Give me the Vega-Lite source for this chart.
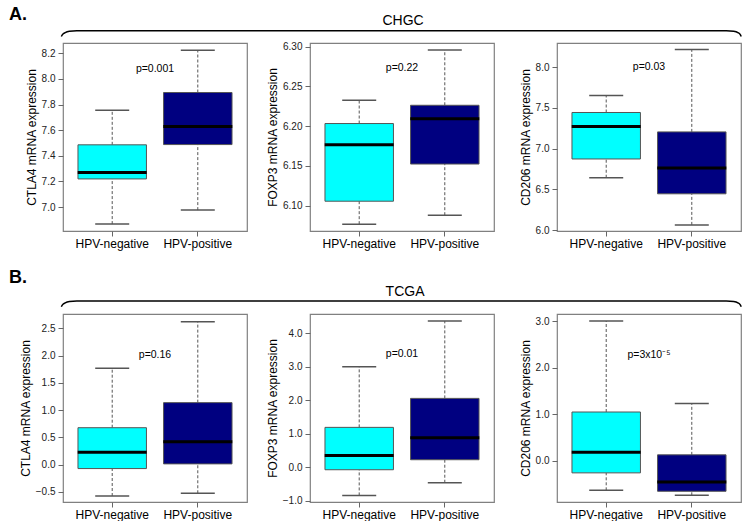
{
  "$schema": "https://vega.github.io/schema/vega-lite/v6.json",
  "background": "white",
  "padding": {"left": 8, "top": 5, "right": 0, "bottom": 0},
  "columns": 3,
  "bounds": "flush",
  "spacing": {"row": 83, "column": 63},
  "config": {
    "font": "Liberation Sans",
    "view": {"stroke": "#808080", "strokeWidth": 1.2},
    "axis": {"grid": false, "domain": false, "tickColor": "#666", "tickSize": 5},
    "axisX": {"labelAngle": 0, "labelFontSize": 12, "labelColor": "black", "labelPadding": 2},
    "axisY": {"labelFontSize": 10, "labelColor": "#222", "labelPadding": 3, "titleFontSize": 12, "titleFontWeight": "normal", "titleColor": "black", "titlePadding": 3}
  },
  "concat": [
    {
      "width": 184, "height": 188,
      "resolve": {"scale": {"x": "independent", "y": "independent"}},
      "layer": [
        {
          "layer": [
            {
              "data": {"values": [
                {"group": "HPV-negative", "min": 6.868, "q1": 7.22, "median": 7.271, "q3": 7.486, "max": 7.755},
                {"group": "HPV-positive", "min": 6.977, "q1": 7.488, "median": 7.628, "q3": 7.894, "max": 8.223}
              ]},
              "encoding": {"x": {"field": "group", "type": "nominal", "sort": null, "title": null, "scale": {"paddingInner": 0.2, "paddingOuter": 0.175}}},
              "layer": [
                {"mark": {"type": "rule", "color": "#555", "strokeDash": [3, 2]}, "encoding": {"y": {"field": "q3", "type": "quantitative", "title": "CTLA4 mRNA expression", "scale": {"domain": [6.814, 8.28], "nice": false, "zero": false}, "axis": {"values": [7.0, 7.2, 7.4, 7.6, 7.8, 8.0, 8.2], "format": ".1f", "labelOverlap": false, "tickCount": 30}}, "y2": {"field": "max"}}},
                {"mark": {"type": "rule", "color": "#555", "strokeDash": [3, 2]}, "encoding": {"y": {"field": "min", "type": "quantitative", "title": "CTLA4 mRNA expression"}, "y2": {"field": "q1"}}},
                {"mark": {"type": "tick", "color": "#555", "size": 34, "thickness": 1.5, "opacity": 1}, "encoding": {"y": {"field": "max", "type": "quantitative", "title": "CTLA4 mRNA expression"}}},
                {"mark": {"type": "tick", "color": "#555", "size": 34, "thickness": 1.5, "opacity": 1}, "encoding": {"y": {"field": "min", "type": "quantitative", "title": "CTLA4 mRNA expression"}}},
                {"mark": {"type": "bar", "stroke": "#555", "strokeWidth": 1, "opacity": 1}, "encoding": {"y": {"field": "q1", "type": "quantitative", "title": "CTLA4 mRNA expression"}, "y2": {"field": "q3"}, "color": {"field": "group", "type": "nominal", "scale": {"domain": ["HPV-negative", "HPV-positive"], "range": ["#00FFFF", "#000080"]}, "legend": null}}},
                {"mark": {"type": "tick", "color": "black", "size": 69, "thickness": 3, "opacity": 1}, "encoding": {"y": {"field": "median", "type": "quantitative", "title": "CTLA4 mRNA expression"}}}
              ]
            },
            {"data": {"values": [{"label": "p=0.001", "ty": 8.08}]}, "mark": {"type": "text", "fontSize": 10.5, "color": "black"}, "encoding": {"y": {"field": "ty", "type": "quantitative", "title": "CTLA4 mRNA expression"}, "text": {"field": "label"}}}
          ]
        },
        {
          "layer": [
            {"data": {"values": [
              {"hx": -0.009, "hy": 1.0346}, {"hx": -0.002, "hy": 1.046}, {"hx": 0.012, "hy": 1.055}, {"hx": 0.035, "hy": 1.062}, {"hx": 0.075, "hy": 1.065},
              {"hx": 3.605, "hy": 1.065}, {"hx": 3.645, "hy": 1.062}, {"hx": 3.668, "hy": 1.055}, {"hx": 3.68, "hy": 1.046}, {"hx": 3.686, "hy": 1.0346}
            ]},
             "mark": {"type": "line", "interpolate": "monotone", "color": "black", "strokeWidth": 1.5, "clip": false},
             "encoding": {"x": {"field": "hx", "type": "quantitative", "scale": {"domain": [0, 1], "nice": false, "zero": false}, "axis": null}, "y": {"field": "hy", "type": "quantitative", "scale": {"domain": [0, 1], "nice": false, "zero": false}, "axis": null}}},
            {"data": {"values": [{"hx": -0.293, "hy": 1.1197, "label": "A."}]},
             "mark": {"type": "text", "align": "left", "baseline": "alphabetic", "fontSize": 18, "fontWeight": "bold", "color": "black", "clip": false},
             "encoding": {"x": {"field": "hx", "type": "quantitative", "axis": null}, "y": {"field": "hy", "type": "quantitative", "axis": null}, "text": {"field": "label"}}},
            {"data": {"values": [{"hx": 1.848, "hy": 1.094, "label": "CHGC"}]},
             "mark": {"type": "text", "align": "center", "baseline": "alphabetic", "fontSize": 14, "color": "black", "clip": false},
             "encoding": {"x": {"field": "hx", "type": "quantitative", "axis": null}, "y": {"field": "hy", "type": "quantitative", "axis": null}, "text": {"field": "label"}}}
          ]
        }
      ]
    },
    {
      "width": 184, "height": 188,
      "layer": [
        {
          "data": {"values": [
            {"group": "HPV-negative", "min": 6.0766, "q1": 6.1055, "median": 6.1766, "q3": 6.2033, "max": 6.2326},
            {"group": "HPV-positive", "min": 6.0879, "q1": 6.1523, "median": 6.2092, "q3": 6.2263, "max": 6.2958}
          ]},
          "encoding": {"x": {"field": "group", "type": "nominal", "sort": null, "title": null, "scale": {"paddingInner": 0.2, "paddingOuter": 0.175}}},
          "layer": [
            {"mark": {"type": "rule", "color": "#555", "strokeDash": [3, 2]}, "encoding": {"y": {"field": "q3", "type": "quantitative", "title": "FOXP3 mRNA expression", "scale": {"domain": [6.068, 6.3047], "nice": false, "zero": false}, "axis": {"values": [6.1, 6.15, 6.2, 6.25, 6.3], "format": ".2f", "labelOverlap": false, "tickCount": 30}}, "y2": {"field": "max"}}},
            {"mark": {"type": "rule", "color": "#555", "strokeDash": [3, 2]}, "encoding": {"y": {"field": "min", "type": "quantitative", "title": "FOXP3 mRNA expression"}, "y2": {"field": "q1"}}},
            {"mark": {"type": "tick", "color": "#555", "size": 34, "thickness": 1.5, "opacity": 1}, "encoding": {"y": {"field": "max", "type": "quantitative", "title": "FOXP3 mRNA expression"}}},
            {"mark": {"type": "tick", "color": "#555", "size": 34, "thickness": 1.5, "opacity": 1}, "encoding": {"y": {"field": "min", "type": "quantitative", "title": "FOXP3 mRNA expression"}}},
            {"mark": {"type": "bar", "stroke": "#555", "strokeWidth": 1, "opacity": 1}, "encoding": {"y": {"field": "q1", "type": "quantitative", "title": "FOXP3 mRNA expression"}, "y2": {"field": "q3"}, "color": {"field": "group", "type": "nominal", "scale": {"domain": ["HPV-negative", "HPV-positive"], "range": ["#00FFFF", "#000080"]}, "legend": null}}},
            {"mark": {"type": "tick", "color": "black", "size": 69, "thickness": 3, "opacity": 1}, "encoding": {"y": {"field": "median", "type": "quantitative", "title": "FOXP3 mRNA expression"}}}
          ]
        },
        {"data": {"values": [{"label": "p=0.22", "ty": 6.2728}]}, "mark": {"type": "text", "fontSize": 10.5, "color": "black"}, "encoding": {"y": {"field": "ty", "type": "quantitative", "title": "FOXP3 mRNA expression"}, "text": {"field": "label"}}}
      ]
    },
    {
      "width": 184, "height": 188,
      "layer": [
        {
          "data": {"values": [
            {"group": "HPV-negative", "min": 6.643, "q1": 6.873, "median": 7.271, "q3": 7.443, "max": 7.652},
            {"group": "HPV-positive", "min": 6.065, "q1": 6.446, "median": 6.762, "q3": 7.205, "max": 8.214}
          ]},
          "encoding": {"x": {"field": "group", "type": "nominal", "sort": null, "title": null, "scale": {"paddingInner": 0.2, "paddingOuter": 0.175}}},
          "layer": [
            {"mark": {"type": "rule", "color": "#555", "strokeDash": [3, 2]}, "encoding": {"y": {"field": "q3", "type": "quantitative", "title": "CD206 mRNA expression", "scale": {"domain": [5.99, 8.295], "nice": false, "zero": false}, "axis": {"values": [6.0, 6.5, 7.0, 7.5, 8.0], "format": ".1f", "labelOverlap": false, "tickCount": 30}}, "y2": {"field": "max"}}},
            {"mark": {"type": "rule", "color": "#555", "strokeDash": [3, 2]}, "encoding": {"y": {"field": "min", "type": "quantitative", "title": "CD206 mRNA expression"}, "y2": {"field": "q1"}}},
            {"mark": {"type": "tick", "color": "#555", "size": 34, "thickness": 1.5, "opacity": 1}, "encoding": {"y": {"field": "max", "type": "quantitative", "title": "CD206 mRNA expression"}}},
            {"mark": {"type": "tick", "color": "#555", "size": 34, "thickness": 1.5, "opacity": 1}, "encoding": {"y": {"field": "min", "type": "quantitative", "title": "CD206 mRNA expression"}}},
            {"mark": {"type": "bar", "stroke": "#555", "strokeWidth": 1, "opacity": 1}, "encoding": {"y": {"field": "q1", "type": "quantitative", "title": "CD206 mRNA expression"}, "y2": {"field": "q3"}, "color": {"field": "group", "type": "nominal", "scale": {"domain": ["HPV-negative", "HPV-positive"], "range": ["#00FFFF", "#000080"]}, "legend": null}}},
            {"mark": {"type": "tick", "color": "black", "size": 69, "thickness": 3, "opacity": 1}, "encoding": {"y": {"field": "median", "type": "quantitative", "title": "CD206 mRNA expression"}}}
          ]
        },
        {"data": {"values": [{"label": "p=0.03", "ty": 8.0}]}, "mark": {"type": "text", "fontSize": 10.5, "color": "black"}, "encoding": {"y": {"field": "ty", "type": "quantitative", "title": "CD206 mRNA expression"}, "text": {"field": "label"}}}
      ]
    },
    {
      "width": 184, "height": 188,
      "resolve": {"scale": {"x": "independent", "y": "independent"}},
      "layer": [
        {
          "layer": [
            {
              "data": {"values": [
                {"group": "HPV-negative", "min": -0.574, "q1": -0.071, "median": 0.23, "q3": 0.678, "max": 1.77},
                {"group": "HPV-positive", "min": -0.524, "q1": 0.015, "median": 0.42, "q3": 1.138, "max": 2.623}
              ]},
              "encoding": {"x": {"field": "group", "type": "nominal", "sort": null, "title": null, "scale": {"paddingInner": 0.2, "paddingOuter": 0.175}}},
              "layer": [
                {"mark": {"type": "rule", "color": "#555", "strokeDash": [3, 2]}, "encoding": {"y": {"field": "q3", "type": "quantitative", "title": "CTLA4 mRNA expression", "scale": {"domain": [-0.684, 2.763], "nice": false, "zero": false}, "axis": {"values": [-0.5, 0, 0.5, 1.0, 1.5, 2.0, 2.5], "format": ".1f", "labelOverlap": false, "tickCount": 30}}, "y2": {"field": "max"}}},
                {"mark": {"type": "rule", "color": "#555", "strokeDash": [3, 2]}, "encoding": {"y": {"field": "min", "type": "quantitative", "title": "CTLA4 mRNA expression"}, "y2": {"field": "q1"}}},
                {"mark": {"type": "tick", "color": "#555", "size": 34, "thickness": 1.5, "opacity": 1}, "encoding": {"y": {"field": "max", "type": "quantitative", "title": "CTLA4 mRNA expression"}}},
                {"mark": {"type": "tick", "color": "#555", "size": 34, "thickness": 1.5, "opacity": 1}, "encoding": {"y": {"field": "min", "type": "quantitative", "title": "CTLA4 mRNA expression"}}},
                {"mark": {"type": "bar", "stroke": "#555", "strokeWidth": 1, "opacity": 1}, "encoding": {"y": {"field": "q1", "type": "quantitative", "title": "CTLA4 mRNA expression"}, "y2": {"field": "q3"}, "color": {"field": "group", "type": "nominal", "scale": {"domain": ["HPV-negative", "HPV-positive"], "range": ["#00FFFF", "#000080"]}, "legend": null}}},
                {"mark": {"type": "tick", "color": "black", "size": 69, "thickness": 3, "opacity": 1}, "encoding": {"y": {"field": "median", "type": "quantitative", "title": "CTLA4 mRNA expression"}}}
              ]
            },
            {"data": {"values": [{"label": "p=0.16", "ty": 2.016}]}, "mark": {"type": "text", "fontSize": 10.5, "color": "black"}, "encoding": {"y": {"field": "ty", "type": "quantitative", "title": "CTLA4 mRNA expression"}, "text": {"field": "label"}}}
          ]
        },
        {
          "layer": [
            {"data": {"values": [
              {"hx": -0.009, "hy": 1.0386}, {"hx": -0.002, "hy": 1.05}, {"hx": 0.012, "hy": 1.059}, {"hx": 0.035, "hy": 1.066}, {"hx": 0.075, "hy": 1.069},
              {"hx": 3.605, "hy": 1.069}, {"hx": 3.645, "hy": 1.066}, {"hx": 3.668, "hy": 1.059}, {"hx": 3.68, "hy": 1.05}, {"hx": 3.686, "hy": 1.0386}
            ]},
             "mark": {"type": "line", "interpolate": "monotone", "color": "black", "strokeWidth": 1.5, "clip": false},
             "encoding": {"x": {"field": "hx", "type": "quantitative", "scale": {"domain": [0, 1], "nice": false, "zero": false}, "axis": null}, "y": {"field": "hy", "type": "quantitative", "scale": {"domain": [0, 1], "nice": false, "zero": false}, "axis": null}}},
            {"data": {"values": [{"hx": -0.293, "hy": 1.1665, "label": "B."}]},
             "mark": {"type": "text", "align": "left", "baseline": "alphabetic", "fontSize": 18, "fontWeight": "bold", "color": "black", "clip": false},
             "encoding": {"x": {"field": "hx", "type": "quantitative", "axis": null}, "y": {"field": "hy", "type": "quantitative", "axis": null}, "text": {"field": "label"}}},
            {"data": {"values": [{"hx": 1.859, "hy": 1.0984, "label": "TCGA"}]},
             "mark": {"type": "text", "align": "center", "baseline": "alphabetic", "fontSize": 14, "color": "black", "clip": false},
             "encoding": {"x": {"field": "hx", "type": "quantitative", "axis": null}, "y": {"field": "hy", "type": "quantitative", "axis": null}, "text": {"field": "label"}}}
          ]
        }
      ]
    },
    {
      "width": 184, "height": 188,
      "layer": [
        {
          "data": {"values": [
            {"group": "HPV-negative", "min": -0.843, "q1": -0.076, "median": 0.353, "q3": 1.19, "max": 3.0},
            {"group": "HPV-positive", "min": -0.464, "q1": 0.223, "median": 0.88, "q3": 2.056, "max": 4.367}
          ]},
          "encoding": {"x": {"field": "group", "type": "nominal", "sort": null, "title": null, "scale": {"paddingInner": 0.2, "paddingOuter": 0.175}}},
          "layer": [
            {"mark": {"type": "rule", "color": "#555", "strokeDash": [3, 2]}, "encoding": {"y": {"field": "q3", "type": "quantitative", "title": "FOXP3 mRNA expression", "scale": {"domain": [-1.04, 4.577], "nice": false, "zero": false}, "axis": {"values": [-1, 0, 1, 2, 3, 4], "format": ".1f", "labelOverlap": false, "tickCount": 30}}, "y2": {"field": "max"}}},
            {"mark": {"type": "rule", "color": "#555", "strokeDash": [3, 2]}, "encoding": {"y": {"field": "min", "type": "quantitative", "title": "FOXP3 mRNA expression"}, "y2": {"field": "q1"}}},
            {"mark": {"type": "tick", "color": "#555", "size": 34, "thickness": 1.5, "opacity": 1}, "encoding": {"y": {"field": "max", "type": "quantitative", "title": "FOXP3 mRNA expression"}}},
            {"mark": {"type": "tick", "color": "#555", "size": 34, "thickness": 1.5, "opacity": 1}, "encoding": {"y": {"field": "min", "type": "quantitative", "title": "FOXP3 mRNA expression"}}},
            {"mark": {"type": "bar", "stroke": "#555", "strokeWidth": 1, "opacity": 1}, "encoding": {"y": {"field": "q1", "type": "quantitative", "title": "FOXP3 mRNA expression"}, "y2": {"field": "q3"}, "color": {"field": "group", "type": "nominal", "scale": {"domain": ["HPV-negative", "HPV-positive"], "range": ["#00FFFF", "#000080"]}, "legend": null}}},
            {"mark": {"type": "tick", "color": "black", "size": 69, "thickness": 3, "opacity": 1}, "encoding": {"y": {"field": "median", "type": "quantitative", "title": "FOXP3 mRNA expression"}}}
          ]
        },
        {"data": {"values": [{"label": "p=0.01", "ty": 3.37}]}, "mark": {"type": "text", "fontSize": 10.5, "color": "black"}, "encoding": {"y": {"field": "ty", "type": "quantitative", "title": "FOXP3 mRNA expression"}, "text": {"field": "label"}}}
      ]
    },
    {
      "width": 184, "height": 188,
      "layer": [
        {
          "data": {"values": [
            {"group": "HPV-negative", "min": -0.632, "q1": -0.258, "median": 0.187, "q3": 1.048, "max": 3.0},
            {"group": "HPV-positive", "min": -0.739, "q1": -0.653, "median": -0.452, "q3": 0.129, "max": 1.228}
          ]},
          "encoding": {"x": {"field": "group", "type": "nominal", "sort": null, "title": null, "scale": {"paddingInner": 0.2, "paddingOuter": 0.175}}},
          "layer": [
            {"mark": {"type": "rule", "color": "#555", "strokeDash": [3, 2]}, "encoding": {"y": {"field": "q3", "type": "quantitative", "title": "CD206 mRNA expression", "scale": {"domain": [-0.883, 3.151], "nice": false, "zero": false}, "axis": {"values": [0, 1, 2, 3], "format": ".1f", "labelOverlap": false, "tickCount": 30}}, "y2": {"field": "max"}}},
            {"mark": {"type": "rule", "color": "#555", "strokeDash": [3, 2]}, "encoding": {"y": {"field": "min", "type": "quantitative", "title": "CD206 mRNA expression"}, "y2": {"field": "q1"}}},
            {"mark": {"type": "tick", "color": "#555", "size": 34, "thickness": 1.5, "opacity": 1}, "encoding": {"y": {"field": "max", "type": "quantitative", "title": "CD206 mRNA expression"}}},
            {"mark": {"type": "tick", "color": "#555", "size": 34, "thickness": 1.5, "opacity": 1}, "encoding": {"y": {"field": "min", "type": "quantitative", "title": "CD206 mRNA expression"}}},
            {"mark": {"type": "bar", "stroke": "#555", "strokeWidth": 1, "opacity": 1}, "encoding": {"y": {"field": "q1", "type": "quantitative", "title": "CD206 mRNA expression"}, "y2": {"field": "q3"}, "color": {"field": "group", "type": "nominal", "scale": {"domain": ["HPV-negative", "HPV-positive"], "range": ["#00FFFF", "#000080"]}, "legend": null}}},
            {"mark": {"type": "tick", "color": "black", "size": 69, "thickness": 3, "opacity": 1}, "encoding": {"y": {"field": "median", "type": "quantitative", "title": "CD206 mRNA expression"}}}
          ]
        },
        {"data": {"values": [{"label": "p=3x10⁻⁵", "ty": 2.267}]}, "mark": {"type": "text", "fontSize": 10.5, "color": "black"}, "encoding": {"y": {"field": "ty", "type": "quantitative", "title": "CD206 mRNA expression"}, "text": {"field": "label"}}}
      ]
    }
  ]
}
